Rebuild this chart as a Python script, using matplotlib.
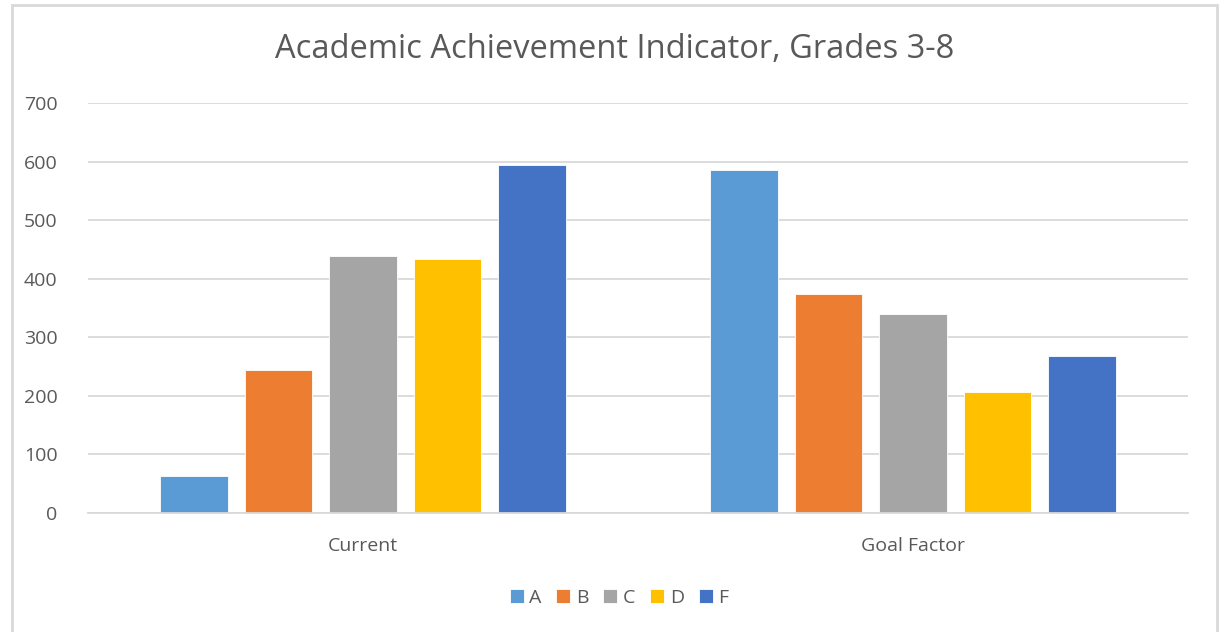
import numpy as np
from matplotlib import pyplot as plt
from matplotlib.patches import Rectangle

categories = ['Current', 'Goal Factor']
series = ['A', 'B', 'C', 'D', 'F']
valuesA = [64, 586]
valuesB = [244, 374]
valuesC = [438, 340]
valuesD = [433, 206]
valuesF = [594, 268]
yticks = [0, 100, 200, 300, 400, 500, 600, 700]

colors = ['#5B9BD5', '#ED7D31', '#A5A5A5', '#FFC000', '#4472C4']
textColor = '#595959'
gridColor = '#D9D9D9'

plt.rcParams['font.family'] = ['Open Sans', 'DejaVu Sans']

fig = plt.figure(figsize=(12.22, 6.32), dpi=100)
ax = fig.add_axes([88 / 1222, 119 / 632, 1100 / 1222, 410 / 632])

x = np.arange(len(categories))
step = 0.1536
width = 0.122
allValues = [valuesA, valuesB, valuesC, valuesD, valuesF]
for k in range(len(series)):   # one bar per series in each category
    ax.bar(x + (k - 2) * step, allValues[k], width, color=colors[k], label=series[k],
           edgecolor='white', linewidth=0.6, zorder=3)

ax.set_xlim(-0.5, 1.5)
ax.set_ylim(0, 700)
ax.set_yticks(yticks)
ax.set_xticks(x)
ax.set_xticklabels(categories)
ax.tick_params(axis='y', length=0, pad=22, labelsize=14, labelcolor=textColor)
ax.tick_params(axis='x', length=0, pad=17, labelsize=14, labelcolor=textColor)
ax.grid(axis='y', color=gridColor, linewidth=1.3, zorder=0)
for s in ['top', 'right', 'left']:
    ax.spines[s].set_visible(False)
ax.spines['bottom'].set_color(gridColor)
ax.spines['bottom'].set_linewidth(1.3)
ax.spines['bottom'].set_zorder(4)

fig.text(615 / 1222, 1 - 50 / 632, 'Academic Achievement Indicator, Grades 3-8',
         ha='center', va='center', fontsize=23.5, color=textColor)

fig.legend(loc='center', bbox_to_anchor=(619 / 1222, 1 - 598 / 632), ncol=5, frameon=False,
           handlelength=0.72, handleheight=0.72, handletextpad=0.3, columnspacing=0.75,
           fontsize=14, labelcolor=textColor)

# light grey chart border like the Excel frame
fig.patches.append(Rectangle((12 / 1222, -0.1), 1205 / 1222, 1.1 - 5 / 632, transform=fig.transFigure,
                             fill=False, edgecolor=gridColor, linewidth=2))

plt.savefig('out.png', dpi=100)
